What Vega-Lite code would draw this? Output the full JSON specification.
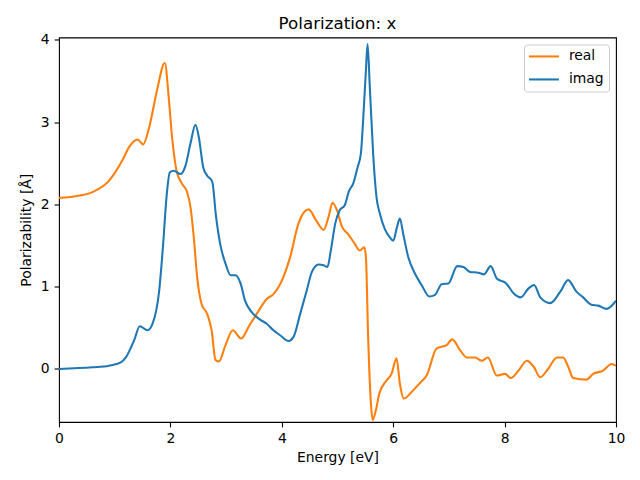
{
  "$schema": "https://vega.github.io/schema/vega-lite/v6.json",
  "autosize": {"type": "none"},
  "padding": {"left": 59, "top": 37.5, "right": 24, "bottom": 58},
  "width": 557,
  "height": 384.5,
  "title": {"text": "Polarization: x", "fontSize": 16.7, "font": "DejaVu Sans", "fontWeight": "normal", "color": "#000000", "baseline": "alphabetic", "offset": -13},
  "config": {
    "font": "DejaVu Sans",
    "view": {"stroke": "#000000", "strokeWidth": 1.1},
    "axis": {"domain": false, "grid": false, "tickColor": "#000000", "tickSize": 4.9, "tickWidth": 1.1, "labelColor": "#000000", "labelFontSize": 13.9, "labelFont": "DejaVu Sans", "titleFont": "DejaVu Sans", "titleFontSize": 13.9, "titleFontWeight": "normal", "titleColor": "#000000"}
  },
  "data": {"values": [
    {"E":0,"v":2.08,"s":"real"},{"E":0.3,"v":2.10,"s":"real"},{"E":0.6,"v":2.15,"s":"real"},{"E":0.9,"v":2.29,"s":"real"},{"E":1.14,"v":2.54,"s":"real"},{"E":1.26,"v":2.70,"s":"real"},{"E":1.41,"v":2.79,"s":"real"},{"E":1.51,"v":2.73,"s":"real"},{"E":1.62,"v":2.94,"s":"real"},{"E":1.76,"v":3.39,"s":"real"},{"E":1.90,"v":3.72,"s":"real"},{"E":1.97,"v":3.30,"s":"real"},{"E":2.03,"v":2.82,"s":"real"},{"E":2.11,"v":2.41,"s":"real"},{"E":2.21,"v":2.25,"s":"real"},{"E":2.30,"v":2.15,"s":"real"},{"E":2.36,"v":1.97,"s":"real"},{"E":2.42,"v":1.60,"s":"real"},{"E":2.48,"v":1.12,"s":"real"},{"E":2.56,"v":0.79,"s":"real"},{"E":2.66,"v":0.67,"s":"real"},{"E":2.74,"v":0.47,"s":"real"},{"E":2.81,"v":0.11,"s":"real"},{"E":2.87,"v":0.09,"s":"real"},{"E":2.99,"v":0.29,"s":"real"},{"E":3.12,"v":0.47,"s":"real"},{"E":3.27,"v":0.37,"s":"real"},{"E":3.41,"v":0.52,"s":"real"},{"E":3.55,"v":0.67,"s":"real"},{"E":3.73,"v":0.85,"s":"real"},{"E":3.85,"v":0.91,"s":"real"},{"E":4.03,"v":1.12,"s":"real"},{"E":4.15,"v":1.36,"s":"real"},{"E":4.30,"v":1.77,"s":"real"},{"E":4.48,"v":1.94,"s":"real"},{"E":4.63,"v":1.79,"s":"real"},{"E":4.75,"v":1.69,"s":"real"},{"E":4.84,"v":1.85,"s":"real"},{"E":4.91,"v":2.02,"s":"real"},{"E":4.99,"v":1.93,"s":"real"},{"E":5.08,"v":1.73,"s":"real"},{"E":5.19,"v":1.64,"s":"real"},{"E":5.31,"v":1.52,"s":"real"},{"E":5.40,"v":1.44,"s":"real"},{"E":5.48,"v":1.48,"s":"real"},{"E":5.51,"v":1.36,"s":"real"},{"E":5.55,"v":0.39,"s":"real"},{"E":5.60,"v":-0.42,"s":"real"},{"E":5.63,"v":-0.62,"s":"real"},{"E":5.69,"v":-0.50,"s":"real"},{"E":5.75,"v":-0.30,"s":"real"},{"E":5.88,"v":-0.14,"s":"real"},{"E":5.97,"v":-0.06,"s":"real"},{"E":6.06,"v":0.13,"s":"real"},{"E":6.12,"v":-0.18,"s":"real"},{"E":6.19,"v":-0.36,"s":"real"},{"E":6.33,"v":-0.28,"s":"real"},{"E":6.48,"v":-0.17,"s":"real"},{"E":6.60,"v":-0.08,"s":"real"},{"E":6.78,"v":0.25,"s":"real"},{"E":6.96,"v":0.29,"s":"real"},{"E":7.06,"v":0.36,"s":"real"},{"E":7.20,"v":0.23,"s":"real"},{"E":7.32,"v":0.14,"s":"real"},{"E":7.47,"v":0.14,"s":"real"},{"E":7.59,"v":0.10,"s":"real"},{"E":7.70,"v":0.14,"s":"real"},{"E":7.86,"v":-0.08,"s":"real"},{"E":8.01,"v":-0.06,"s":"real"},{"E":8.11,"v":-0.11,"s":"real"},{"E":8.25,"v":-0.02,"s":"real"},{"E":8.40,"v":0.10,"s":"real"},{"E":8.52,"v":0.03,"s":"real"},{"E":8.64,"v":-0.10,"s":"real"},{"E":8.78,"v":0.00,"s":"real"},{"E":8.94,"v":0.14,"s":"real"},{"E":9.05,"v":0.14,"s":"real"},{"E":9.14,"v":0.03,"s":"real"},{"E":9.23,"v":-0.11,"s":"real"},{"E":9.47,"v":-0.13,"s":"real"},{"E":9.59,"v":-0.06,"s":"real"},{"E":9.77,"v":-0.02,"s":"real"},{"E":9.92,"v":0.06,"s":"real"},{"E":10,"v":0.04,"s":"real"},
    {"E":0,"v":0.00,"s":"imag"},{"E":0.6,"v":0.02,"s":"imag"},{"E":0.9,"v":0.04,"s":"imag"},{"E":1.11,"v":0.08,"s":"imag"},{"E":1.20,"v":0.14,"s":"imag"},{"E":1.35,"v":0.35,"s":"imag"},{"E":1.45,"v":0.52,"s":"imag"},{"E":1.59,"v":0.47,"s":"imag"},{"E":1.68,"v":0.55,"s":"imag"},{"E":1.80,"v":0.96,"s":"imag"},{"E":1.87,"v":1.52,"s":"imag"},{"E":1.93,"v":2.09,"s":"imag"},{"E":1.99,"v":2.39,"s":"imag"},{"E":2.06,"v":2.41,"s":"imag"},{"E":2.18,"v":2.37,"s":"imag"},{"E":2.27,"v":2.47,"s":"imag"},{"E":2.36,"v":2.74,"s":"imag"},{"E":2.45,"v":2.97,"s":"imag"},{"E":2.51,"v":2.82,"s":"imag"},{"E":2.59,"v":2.45,"s":"imag"},{"E":2.66,"v":2.35,"s":"imag"},{"E":2.75,"v":2.28,"s":"imag"},{"E":2.82,"v":1.85,"s":"imag"},{"E":2.90,"v":1.50,"s":"imag"},{"E":2.99,"v":1.28,"s":"imag"},{"E":3.08,"v":1.14,"s":"imag"},{"E":3.17,"v":1.14,"s":"imag"},{"E":3.26,"v":1.04,"s":"imag"},{"E":3.34,"v":0.83,"s":"imag"},{"E":3.46,"v":0.69,"s":"imag"},{"E":3.61,"v":0.60,"s":"imag"},{"E":3.73,"v":0.55,"s":"imag"},{"E":3.85,"v":0.47,"s":"imag"},{"E":3.97,"v":0.41,"s":"imag"},{"E":4.12,"v":0.34,"s":"imag"},{"E":4.21,"v":0.39,"s":"imag"},{"E":4.33,"v":0.67,"s":"imag"},{"E":4.45,"v":0.96,"s":"imag"},{"E":4.54,"v":1.18,"s":"imag"},{"E":4.66,"v":1.27,"s":"imag"},{"E":4.75,"v":1.26,"s":"imag"},{"E":4.82,"v":1.24,"s":"imag"},{"E":4.88,"v":1.44,"s":"imag"},{"E":4.96,"v":1.77,"s":"imag"},{"E":5.04,"v":1.93,"s":"imag"},{"E":5.13,"v":1.99,"s":"imag"},{"E":5.21,"v":2.17,"s":"imag"},{"E":5.28,"v":2.25,"s":"imag"},{"E":5.36,"v":2.45,"s":"imag"},{"E":5.42,"v":2.62,"s":"imag"},{"E":5.46,"v":3.02,"s":"imag"},{"E":5.51,"v":3.63,"s":"imag"},{"E":5.54,"v":3.95,"s":"imag"},{"E":5.58,"v":3.43,"s":"imag"},{"E":5.64,"v":2.62,"s":"imag"},{"E":5.70,"v":2.09,"s":"imag"},{"E":5.76,"v":1.89,"s":"imag"},{"E":5.85,"v":1.70,"s":"imag"},{"E":5.94,"v":1.60,"s":"imag"},{"E":6.00,"v":1.56,"s":"imag"},{"E":6.07,"v":1.73,"s":"imag"},{"E":6.12,"v":1.83,"s":"imag"},{"E":6.18,"v":1.64,"s":"imag"},{"E":6.27,"v":1.36,"s":"imag"},{"E":6.39,"v":1.16,"s":"imag"},{"E":6.51,"v":1.02,"s":"imag"},{"E":6.65,"v":0.88,"s":"imag"},{"E":6.75,"v":0.90,"s":"imag"},{"E":6.87,"v":1.03,"s":"imag"},{"E":6.99,"v":1.04,"s":"imag"},{"E":7.15,"v":1.25,"s":"imag"},{"E":7.26,"v":1.24,"s":"imag"},{"E":7.38,"v":1.18,"s":"imag"},{"E":7.53,"v":1.17,"s":"imag"},{"E":7.63,"v":1.15,"s":"imag"},{"E":7.75,"v":1.25,"s":"imag"},{"E":7.86,"v":1.10,"s":"imag"},{"E":8.03,"v":1.04,"s":"imag"},{"E":8.16,"v":0.92,"s":"imag"},{"E":8.29,"v":0.87,"s":"imag"},{"E":8.43,"v":0.98,"s":"imag"},{"E":8.53,"v":1.02,"s":"imag"},{"E":8.64,"v":0.87,"s":"imag"},{"E":8.82,"v":0.80,"s":"imag"},{"E":9.00,"v":0.94,"s":"imag"},{"E":9.14,"v":1.08,"s":"imag"},{"E":9.29,"v":0.94,"s":"imag"},{"E":9.41,"v":0.87,"s":"imag"},{"E":9.56,"v":0.78,"s":"imag"},{"E":9.68,"v":0.77,"s":"imag"},{"E":9.83,"v":0.73,"s":"imag"},{"E":10,"v":0.83,"s":"imag"}
  ]},
  "mark": {"type": "line", "interpolate": "monotone", "strokeWidth": 2.08, "clip": true},
  "encoding": {
    "x": {"field": "E", "type": "quantitative", "title": "Energy [eV]", "scale": {"domain": [0, 10], "nice": false, "zero": false}, "axis": {"values": [0, 2, 4, 6, 8, 10], "labelPadding": 5, "titlePadding": 5, "labelFlush": false}},
    "y": {"field": "v", "type": "quantitative", "title": "Polarizability [Å]", "scale": {"domain": [-0.645, 4.03], "nice": false, "zero": false}, "axis": {"values": [0, 1, 2, 3, 4], "labelPadding": 5, "titlePadding": 7, "labelFlush": false}},
    "color": {"field": "s", "type": "nominal", "sort": ["real", "imag"], "scale": {"domain": ["real", "imag"], "range": ["#ff7f0e", "#1f77b4"]},
      "legend": {"title": null, "orient": "top-right", "offset": 7, "padding": 5, "fillColor": "#ffffff", "strokeColor": "#cccccc", "cornerRadius": 3, "symbolType": "M-3,0H3", "symbolSize": 100, "symbolStrokeWidth": 2.08, "symbolFillColor": "transparent", "symbolOffset": 8, "labelFontSize": 13.9, "labelColor": "#000000", "labelFont": "DejaVu Sans", "rowPadding": 8, "labelOffset": 18}
    }
  }
}
